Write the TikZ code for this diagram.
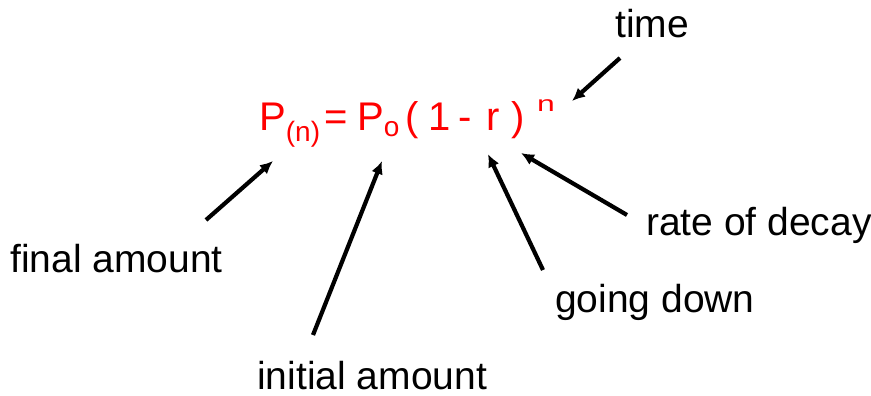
\documentclass[tikz,border=0pt]{standalone}
\usepackage{fontspec}
\setmainfont{Liberation Sans}
\usetikzlibrary{arrows.meta}

\begin{document}
\begin{tikzpicture}[
  x=1pt, y=-1pt,
  every node/.style={inner sep=0pt, anchor=base west},
  formula/.style={text=red, font=\fontsize{40}{48}\selectfont},
  label/.style={text=black, font=\fontsize{39}{46}\selectfont},
  pointer/.style={-{Latex[length=13pt,width=12pt]}, line width=4.2pt}
]
\useasboundingbox (0,0) rectangle (871,396);

% Formula
\node[formula] (pfin) at (259,130) {P\textsubscript{(n)}};
\node[formula] (eq) at (324,130) {=};
\node[formula] (pinit) at (357,130) {P\textsubscript{o}};
\node[formula] (lpar) at (405,130) {(};
\node[formula] (one) at (428,130) {1};
\node[formula] (minus) at (458,130) {-};
\node[formula] (rr) at (486,130) {r};
\node[formula] (rpar) at (511,130) {)};
\node[text=red, font=\fontsize{22}{26}\selectfont] (expn) at (537,112) {\scalebox{1.45}[1]{n}};

% Labels
\node[label] (final) at (10,272) {final amount};
\node[label] (initial) at (257,389) {initial amount};
\node[label] (down) at (555,312) {going down};
\node[label] (rate) at (646,235) {rate of decay};
\node[label] (time) at (615,38) {time};

% Arrow ends
\coordinate (finalTail) at (206,220);
\coordinate (finalTip) at (273,161);
\coordinate (initialTail) at (313,335);
\coordinate (initialTip) at (382,161);
\coordinate (downTail) at (543,270);
\coordinate (downTip) at (488,154);
\coordinate (rateTail) at (627,215);
\coordinate (rateTip) at (521,153);
\coordinate (timeTail) at (620,58);
\coordinate (timeTip) at (572,101);

% Arrows
\draw[pointer] (finalTail) -- (finalTip);
\draw[pointer] (initialTail) -- (initialTip);
\draw[pointer] (downTail) -- (downTip);
\draw[pointer] (rateTail) -- (rateTip);
\draw[pointer] (timeTail) -- (timeTip);

\end{tikzpicture}
\end{document}
